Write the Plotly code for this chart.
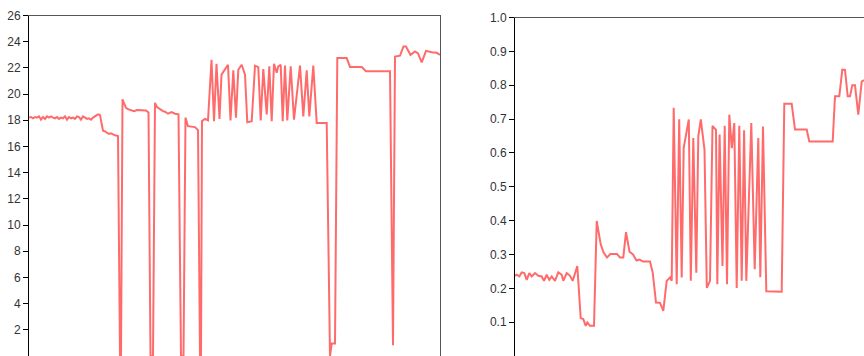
import plotly.graph_objects as go

# ---- data (time index, value) ----
left_t = [0, 2, 4, 6, 8, 10, 12, 14, 16, 18, 20, 22, 24, 26, 28, 30, 32, 34, 36, 38,
          40, 42, 44, 46, 48, 50, 52, 54, 56, 58, 60, 62, 64, 66, 69, 71, 74, 76, 78, 80,
          82, 84, 86, 89, 91, 92, 93.5, 95, 97, 99, 102, 105, 108, 111, 114, 117, 119.5, 121.5, 124, 126,
          128, 131, 134, 136, 139, 142.5, 146, 149.5, 152, 154.5, 156.5, 159, 162, 166, 169, 171, 172, 173, 176, 179,
          182.5, 185, 187.5, 190.5, 192.5, 199, 201.5, 204.3, 207, 209.3, 212.7, 216, 218.3, 222.7, 226, 229.3, 231.7, 234.3, 237.7, 240.3,
          242.7, 245, 247.7, 249.3, 251.7, 253.7, 256, 258.3, 261.7, 265, 271, 274.3, 277.7, 280.3, 284.3, 287.7, 297.7, 301, 302.7, 306,
          308.3, 317.7, 321, 332.7, 337, 361, 364, 366, 371, 374.5, 377, 381.5, 386, 389, 392.7, 397, 402.7, 407.7, 411]
left_v = [18.2, 18.25, 18.15, 18.25, 18.2, 18.3, 18.05, 18.25, 18.1, 18.3, 18.2, 18.3, 18.2, 18.15, 18.25, 18.1, 18.2, 18.15, 18.3, 18.05,
          18.25, 18.15, 18.2, 18.1, 18.3, 18.25, 18.05, 18.3, 18.2, 18.1, 18.15, 18.05, 18.2, 18.3, 18.45, 18.4, 17.2, 17.15, 17.05, 16.95,
          17.0, 16.9, 16.85, 16.8, 0, 0, 19.6, 19.3, 18.95, 18.85, 18.75, 18.7, 18.78, 18.78, 18.78, 18.75, 18.6, 0, 0, 19.33,
          19.0, 18.82, 18.7, 18.65, 18.5, 18.62, 18.5, 18.45, 0, 0, 18.2, 17.55, 17.5, 17.48, 17.25, 0, 0, 17.95, 18.1, 18.0,
          22.62, 17.93, 22.32, 18.1, 21.48, 22.24, 17.99, 21.81, 18.19, 21.86, 22.24, 21.48, 17.85, 17.93, 22.17, 22.06, 17.99, 21.91, 18.44, 22.12,
          17.93, 22.32, 21.63, 22.12, 22.24, 17.93, 22.17, 17.99, 22.12, 18.04, 22.17, 18.3, 21.81, 18.3, 22.17, 17.8, 17.8, 0, 0.95, 0.95,
          22.75, 22.75, 22.07, 22.07, 21.74, 21.74, 0.82, 22.87, 22.93, 23.64, 23.64, 22.99, 23.25, 23.1, 22.42, 23.3, 23.2, 23.15, 23.0]

right_t = [0, 1.7, 4.3, 6.7, 9.3, 11.7, 14.3, 16.7, 20, 23.3, 26.7, 29, 31.7, 34.3, 36.7, 40, 43.3, 46.7, 48.3, 51.7,
           55, 57.7, 62.3, 65.7, 68.3, 70.7, 72.3, 75, 79, 81.7, 85.7, 88.5, 92, 95.3, 102, 105, 108.3, 111, 114.5, 118,
           121.5, 124.5, 128, 135, 137.7, 141, 145, 148.3, 151.7, 155, 156.7, 158.7, 161.7, 164.2, 166.7, 168.7, 173.8, 175.8, 178.3, 181.3,
           183.3, 185.8, 189.5, 191.8, 195, 197.5, 201, 202.3, 204.6, 207.5, 209.7, 212, 214.3, 216.8, 219.3, 221.7, 224.3, 226.7, 229.1, 231.3,
           236.3, 239.7, 243.3, 245.3, 248, 251.3, 266.7, 269.3, 276.7, 280, 291.7, 294.3, 317.7, 320, 324.3, 327.3, 330, 332.7, 335, 337.3,
           340, 343.3, 346.7, 349]
right_v = [0.237, 0.24, 0.235, 0.247, 0.245, 0.225, 0.245, 0.235, 0.245, 0.237, 0.235, 0.222, 0.24, 0.225, 0.235, 0.222, 0.247, 0.24, 0.222, 0.245,
           0.237, 0.222, 0.266, 0.112, 0.109, 0.089, 0.099, 0.089, 0.089, 0.399, 0.33, 0.306, 0.291, 0.301, 0.301, 0.291, 0.291, 0.366, 0.308, 0.3,
           0.282, 0.285, 0.279, 0.279, 0.247, 0.158, 0.157, 0.133, 0.222, 0.232, 0.222, 0.733, 0.212, 0.699, 0.232, 0.615, 0.699, 0.222, 0.644, 0.246,
           0.65, 0.699, 0.61, 0.201, 0.222, 0.68, 0.668, 0.212, 0.654, 0.266, 0.68, 0.212, 0.713, 0.614, 0.688, 0.201, 0.68, 0.222, 0.667, 0.222,
           0.688, 0.256, 0.644, 0.233, 0.678, 0.191, 0.19, 0.745, 0.745, 0.669, 0.669, 0.634, 0.634, 0.767, 0.767, 0.846, 0.845, 0.767, 0.767, 0.8,
           0.8, 0.713, 0.811, 0.815]

left_ticks = list(range(0, 27, 2))
right_ticks = [round(i * 0.1, 1) for i in range(11)]
right_ticklabels = [f"{v:.1f}" for v in right_ticks]

LINE = "#ff6b6b"
FONT = dict(family="Liberation Sans, Arial, sans-serif", size=12, color="#333333")

fig = go.Figure()
fig.add_trace(go.Scatter(x=left_t, y=left_v, mode="lines", line=dict(color=LINE, width=2),
                         xaxis="x", yaxis="y", showlegend=False, hoverinfo="skip", cliponaxis=True))
fig.add_trace(go.Scatter(x=right_t, y=right_v, mode="lines", line=dict(color=LINE, width=2),
                         xaxis="x2", yaxis="y2", showlegend=False, hoverinfo="skip"))
fig.add_trace(go.Scatter(x=[], y=[], xaxis="x", yaxis="y3", showlegend=False))

W, H = 864, 356
common_x = dict(showgrid=False, zeroline=False, showticklabels=False, ticks="",
                side="top", showline=True, linecolor="#555555", linewidth=1, automargin=False)
fig.update_layout(
    width=W, height=H,
    margin=dict(l=0, r=0, t=0, b=0, pad=0),
    paper_bgcolor="white", plot_bgcolor="white",
    font=FONT,
    xaxis=dict(domain=[29 / W, 440 / W], range=[0, 411], anchor="y", **common_x),
    xaxis2=dict(domain=[515 / W, 1.0], range=[0, 349], anchor="y2", **common_x),
    yaxis=dict(domain=[0, 1 - 15.5 / H], range=[0, 26], anchor="x",
               tickvals=left_ticks, ticks="outside", ticklen=5, tickcolor="#000",
               showline=True, linecolor="#000", linewidth=1, automargin=False,
               showgrid=False, zeroline=False, tickfont=FONT),
    yaxis2=dict(domain=[0, 1 - 17.5 / H], range=[0, 1.0], anchor="x2",
                tickvals=right_ticks, ticktext=right_ticklabels, ticks="outside", ticklen=5,
                tickcolor="#000", showline=True, linecolor="#000", linewidth=1, automargin=False,
                showgrid=False, zeroline=False, tickfont=FONT),
    yaxis3=dict(overlaying="y", anchor="x", side="right", range=[0, 26],
                showline=True, linecolor="#555555", linewidth=1, ticks="", automargin=False,
                showticklabels=False, showgrid=False, zeroline=False),
)

fig.write_html("out.html", config={"displayModeBar": False},
               post_script="document.body.style.margin='0';document.body.style.overflow='hidden';")
